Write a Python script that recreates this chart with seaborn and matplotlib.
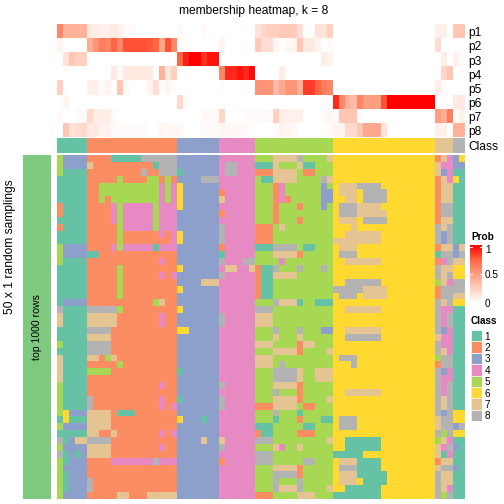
#!/usr/bin/env python3
# membership heatmap, k = 8
import numpy as np
import pandas as pd
import matplotlib.pyplot as plt
from matplotlib.colors import LinearSegmentedColormap, ListedColormap
import seaborn as sns

sns.set_theme(style="white")
plt.rcParams['font.family'] = ['Liberation Sans', 'DejaVu Sans']

W = 504.0
H = 504.0

# Kolom-secties per klasse: 5, 15, 7, 6, 13, 17, 3, 2
p1 = [.6, .4, .4, .4, .4] + [.12, .1, .08, .08, .12, .08, .03, .03, 0, 0, 0, 0, 0, 0, 0] + [.03, 0, 0, 0, .03, 0, 0] + [0] * 6 + [.15, .22, .25, .25, .28, .28, .28, .18, 0, 0, .15, .15, .25] + [0] * 17 + [.08, .08, 0] + [.3, .3]
p2 = [.06, 0, 0, 0, 0] + [.42, .55, .65, .6, .75, .6, .8, .8, .8, .8, .78, .75, .45, .8, .6] + [0] * 7 + [.06, 0, 0, 0, 0, 0] + [.28, .18, .18, .05, .01, .04, .05, .3, .12, .12, .06, 0, .03] + [0] * 17 + [.18, 0, 0] + [0, 0]
p3 = [0, .15, .3, .25, .25] + [0] * 15 + [.75, .92, 1, 1, .88, .95, .95] + [0] * 6 + [0] * 11 + [.1, .06] + [0] * 17 + [0, .1, 0] + [.08, .02]
p4 = [0] * 5 + [0, 0, 0, 0, .12, .02, .12, .12, .12, .12, .12, 0, .4, .13, .25] + [0] * 7 + [.6, .9, .9, .95, .9, .97] + [0, 0, 0, 0, .1, 0, 0, 0, 0, 0, 0, 0, 0] + [0] * 17 + [0, .22, .3] + [0, 0]
p5 = [.25, 0, 0, 0, 0] + [.08, .08, .02, .06, 0, .3, .03, 0, 0, 0, .06, .18, .02, .05, .02] + [0] * 7 + [.02, 0, 0, 0, 0, 0] + [.55, .55, .55, .35, .45, .55, .55, .4, .85, .85, .75, .65, .6] + [0] * 17 + [.1, .02, 0] + [0, 0]
p6 = [0, .05, 0, 0, 0] + [0] * 15 + [.2, .03, 0, 0, 0, 0, 0] + [0] * 6 + [0] * 13 + [.9, .6, .4, .35, .6, .5, .5, .5, .8] + [1] * 8 + [0, 0, 0] + [.12, .12]
p7 = [.03, 0, 0, .02, .02] + [.2, .1, .1, .1, .02] + [0] * 10 + [0, 0, 0, 0, .04, .02, .02] + [.22, 0, 0, 0, .02, .02] + [.02, .02, .02, .25, .1, .08, .08, .08, 0, 0, 0, .02, .05] + [.03, .3, .3, .3, .02] + [0] * 12 + [.5, .42, .65] + [.02, .08]
p8 = [0, .3, .15, .18, .2] + [.12, .12, .07, .07, .03, .02, .02, .02, .02, .02, 0, 0, .05, .04, .04] + [.04, 0, 0, 0, .02, .02, .02] + [.05, .04, .04, .03, .03, 0] + [0, 0, 0, .02, .07, .05, .04, 0, 0, 0, 0, .01, .02] + [.06, .06, .2, .2, .3, .45, .45, .45, .15] + [0] * 8 + [.08, .08, 0] + [.4, .4]
prob_rows = [p1, p2, p3, p4, p5, p6, p7, p8]
prob_labels = ["p1", "p2", "p3", "p4", "p5", "p6", "p7", "p8"]

# Klasse per kolom
class_sizes = [5, 15, 7, 6, 13, 17, 3, 2]
class_labels = [1, 2, 3, 4, 5, 6, 7, 8]
class_colors = ["#66C2A5", "#FC8D62", "#8DA0CB", "#E78AC3", "#A6D854", "#FFD92F", "#E5C494", "#B3B3B3"]

# Samplings, 50 rijen, per blok kolommen (digit = klasse)
block_a = [
    "53333222211111888888", "53333722222222221888", "51111222222222822888", "11111222225222255252",
    "11111225555555555454", "11111225555555555454", "11111225255555555454", "21111222245444445444",
    "21111222245444445444", "11111222245444445444", "21111222225444445444", "11111222225222222424",
    "11111222225222222224", "53333222245444441444", "53333112222222222222", "51111222222222222422",
    "11111222225222222222", "11111222225222222424", "11111222225222222222", "11111222225222222222",
    "11111222225222222222", "13333222222222225722", "81111888885222222222", "71111777772222222422",
    "71111777772222222422", "11111888822222222222", "11111777722222222222", "51111888822222222222",
    "11111888822222222222", "71111772572222222222", "71111222225222222222", "71111555522222222222",
    "71111222222222222222", "51111222222222222422", "51111222222222222222", "51111822222222222422",
    "51111822222222222424", "56333777721112222222", "16111777722222222222", "53333777722222222222",
    "11111772272222222424", "81377888822222222222", "53333777722222222422", "81313777722222222222",
    "51333222244444448444", "53333222222222222222", "51333222222222222222", "51333822222222222222",
    "51333822222222222222", "53333222227722277777",
]
block_b = [
    "3333333444444", "3333333488444", "1333333488444", "3333888444444", "6333333444444",
    "6333333244444", "6333333744444", "6333333444444", "3333333244444", "3333333444444",
    "3333333844444", "6333333844444", "6333333844444", "3333333244444", "3333333144444",
    "3333333844488", "6333333477447", "3333333844444", "3333777444444", "6333333444444",
    "3333333444444", "3333333444444", "6333333444444", "3333333844444", "3333333844444",
    "6633333444444", "3333333444444", "3333333444444", "3333333444444", "3333333444444",
    "3333333444444", "1333333444444", "3333333444444", "3333333844444", "3333333444444",
    "1333333844444", "3333333844444", "3333333444444", "6333133444444", "3333333444444",
    "3333333444444", "3333733744444", "3333333844444", "3333333444444", "3333333244444",
    "3333333444444", "3333333444444", "3333333444444", "3333333444444", "3333333444444",
]
block_c = [
    "5557777855557", "1117555711555", "2227777522555", "5117777555587", "5552455555535",
    "5552455555533", "5552425555533", "5552555255535", "5552555555555", "5552555255555",
    "2225755555555", "2225555555555", "2225555555555", "1118888511555", "5557777255555",
    "5555455555555", "2118555855585", "2117777555555", "2115555555555", "2115555555555",
    "2115555555555", "5558777155111", "8885555555555", "7775555555555", "7775555555555",
    "5558555855533", "5557555755555", "7775555277555", "5557777255557", "7775555555555",
    "7775855555555", "5558888755777", "5558888755777", "5557777255555", "5558555255555",
    "5557777255557", "2227777522555", "5558555155555", "5551555255511", "1115555511555",
    "2115555222555", "8885555555557", "5557455755555", "8885555555555", "8885555588555",
    "5557777255555", "5558888255555", "5558555855555", "5558777855557", "2225555777555",
]
block_d = [
    "66666666666666666", "66666666666666666", "66666666666666666", "66666666666666666", "67778888666666666",
    "67776888866666666", "66776888866666666", "68887777666666666", "68887777766666666", "67776888866666666",
    "66676666666666666", "66777777666666666", "77777777666666666", "67776666666666666", "68886666666666666",
    "66777777666666666", "66666666666666666", "66666666666666666", "66888888666666666", "88888777766666666",
    "68886777766666666", "66666666666666666", "66777777666666666", "66666666666666666", "66666666666666666",
    "66777777666666666", "66888888666666666", "66666666666666666", "66666666666666666", "68886666666666666",
    "66686666666666666", "66666666666666666", "66666666666666666", "66666666666666666", "66777777666666666",
    "66666666666666666", "66666666666666666", "66666666666666666", "68886666666666666", "68886666666666666",
    "66666666666666666", "66111111666666666", "66111111666666666", "11111666666666666", "67771111666666666",
    "68881111666666666", "67771111166666666", "67776111166666666", "66111111666666666", "11111111666666666",
]
block_e = [
    "27436", "74433", "73411", "27461", "27711", "27711", "27711", "28811", "28811", "27711",
    "87811", "83811", "83811", "27737", "18838", "24877", "87766", "87866", "57488", "28888",
    "28877", "87866", "84411", "84811", "84811", "83411", "74411", "84411", "87411", "58811",
    "28811", "83411", "84411", "84811", "84811", "87811", "87811", "83866", "78866", "78838",
    "85866", "57411", "74831", "71411", "27711", "78831", "87711", "87711", "87411", "85811",
]


def px_axes(fig, x0, y0, x1, y1):
    # pixelcoordinaten, y van boven
    return fig.add_axes([x0 / W, 1 - y1 / H, (x1 - x0) / W, (y1 - y0) / H])


prob_cmap = LinearSegmentedColormap.from_list(
    "prob", [(0, "#FFFFFF"), (.25, "#FFD0C0"), (.5, "#FF9E81"), (.75, "#FF6544"), (1, "#FF0000")])
class_cmap = ListedColormap(class_colors)

prob_df = pd.DataFrame(prob_rows, index=prob_labels)
class_row = np.repeat(class_labels, class_sizes)
class_df = pd.DataFrame([class_row], index=["Class"])
sampling_rows = [list(map(int, a + b + c + d + e)) for a, b, c, d, e in zip(block_a, block_b, block_c, block_d, block_e)]
sampling_df = pd.DataFrame(sampling_rows)

fig = plt.figure(figsize=(7, 7), dpi=72, facecolor="white")

# ---------- PROB HEATMAP ----------
ax_prob = px_axes(fig, 57, 24, 465, 137)
ax_cbar = px_axes(fig, 470, 245, 482, 303)
sns.heatmap(prob_df, ax=ax_prob, cmap=prob_cmap, vmin=0, vmax=1, xticklabels=False, yticklabels=False,
            cbar=True, cbar_ax=ax_cbar)
ax_prob.yaxis.tick_right()
ax_prob.set_yticks(np.arange(8) + .55)
ax_prob.set_yticklabels(prob_labels, rotation=0, fontsize=12, color="black")
ax_prob.tick_params(axis="y", length=0, pad=3)

ax_cbar.set_yticks([0, .5, 1])
ax_cbar.set_yticklabels(["0", "0.5", "1"], fontsize=10, color="black")
ax_cbar.get_yticklabels()[2].set_va("top")
ax_cbar.tick_params(axis="y", length=0, pad=3)
for v in [.03, .5, .97]:
    ax_cbar.plot([0, .2], [v, v], color="white", lw=1, transform=ax_cbar.get_yaxis_transform(), clip_on=False)
    ax_cbar.plot([.8, 1], [v, v], color="white", lw=1, transform=ax_cbar.get_yaxis_transform(), clip_on=False)
for spine in ax_cbar.spines.values():
    spine.set_visible(False)

# ---------- CLASS BALK ----------
ax_class = px_axes(fig, 57, 138, 465, 153)
sns.heatmap(class_df, ax=ax_class, cmap=class_cmap, vmin=.5, vmax=8.5, cbar=False, xticklabels=False, yticklabels=False)
ax_class.yaxis.tick_right()
ax_class.set_yticks([.5])
ax_class.set_yticklabels(["Class"], rotation=0, fontsize=12, color="black")
ax_class.tick_params(axis="y", length=0, pad=3)

# ---------- SAMPLINGS ----------
ax_main = px_axes(fig, 57, 155, 465, 499)
sns.heatmap(sampling_df, ax=ax_main, cmap=class_cmap, vmin=.5, vmax=8.5, cbar=False, xticklabels=False, yticklabels=False)

# linker balk
ax_left = px_axes(fig, 23, 155, 51, 499)
sns.heatmap(pd.DataFrame([[1]]), ax=ax_left, cmap=ListedColormap(["#7FC97F"]), cbar=False, xticklabels=False, yticklabels=False)
ax_left.text(.5, .5, "top 1000 rows", rotation=90, ha="center", va="center", fontsize=10.5, color="black", transform=ax_left.transAxes)

fig.text(10 / W, 1 - 247 / H, "50 x 1 random samplings", rotation=90, ha="center", va="center", fontsize=12, color="black")
fig.text(254 / W, 1 - 11 / H, "membership heatmap, k = 8", ha="center", va="center", fontsize=12, color="black")

# ---------- LEGENDA ----------
fig.text(471 / W, 1 - 237 / H, "Prob", ha="left", va="center", fontsize=10, fontweight="bold", color="black")
fig.text(471 / W, 1 - 321 / H, "Class", ha="left", va="center", fontsize=10, fontweight="bold", color="black")

ax_leg = px_axes(fig, 471, 330, 481.5, 421)
sns.heatmap(pd.DataFrame(class_labels), ax=ax_leg, cmap=class_cmap, vmin=.5, vmax=8.5, cbar=False, xticklabels=False,
            yticklabels=False, linewidths=.8, linecolor="#ECECEC")
ax_leg.yaxis.tick_right()
ax_leg.set_yticks(np.arange(8) + .5)
ax_leg.set_yticklabels(class_labels, rotation=0, fontsize=10, color="black")
ax_leg.tick_params(axis="y", length=0, pad=3)

fig.savefig("out.png", dpi=72)
